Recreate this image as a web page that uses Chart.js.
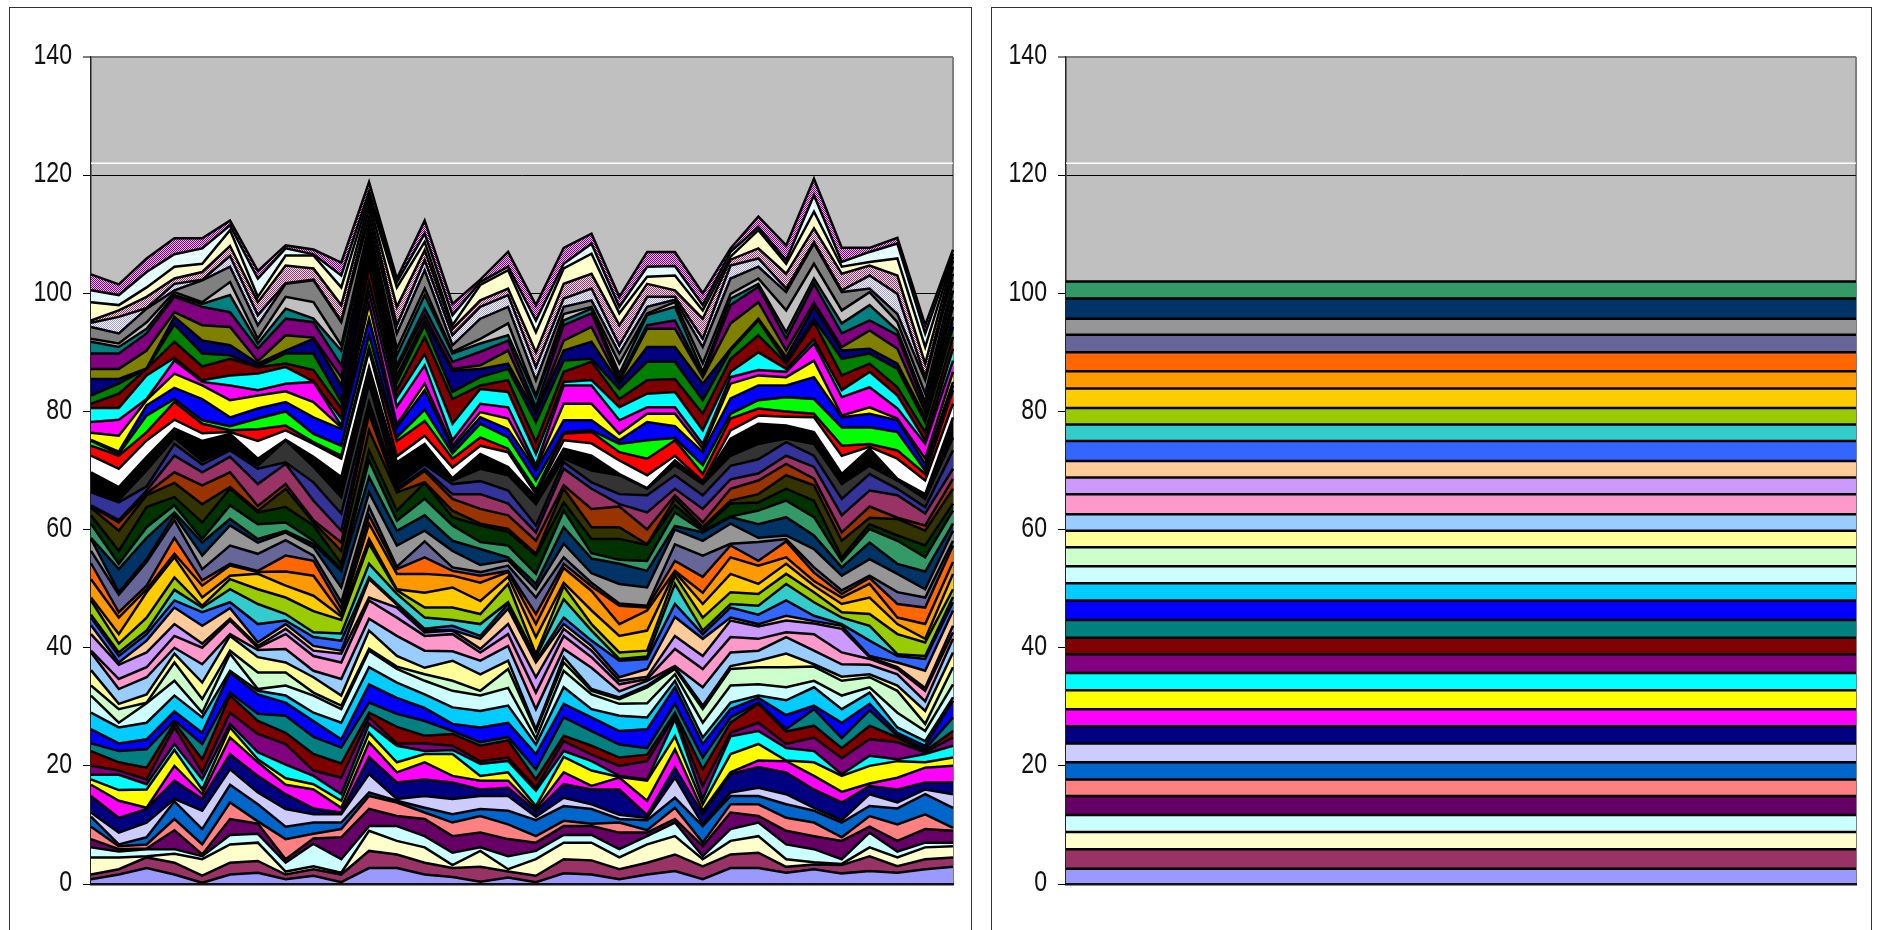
<!DOCTYPE html>
<html>
<head>
<meta charset="utf-8">
<title>Stacked areas</title>
<script src="https://cdn.jsdelivr.net/npm/chart.js@4"></script>
<style>
  html, body { margin: 0; padding: 0; background: #fff; width: 1877px; height: 930px; overflow: hidden; }
  .frame { position: absolute; top: 7px; height: 1000px; border: 1.5px solid #333; box-sizing: border-box; background: #fff; }
  #frameLeft { left: 9px; width: 963px; }
  #frameRight { left: 991px; width: 881px; }
  canvas { position: absolute; top: 0; left: 0; }
</style>
</head>
<body>
<div class="frame" id="frameLeft"><canvas id="leftChart" width="960" height="922"></canvas></div>
<div class="frame" id="frameRight"><canvas id="rightChart" width="878" height="922"></canvas></div>
<script>
// running totals per column, bottom band first
const x00 = [0.8,1.6,4.5,6.2,7.6,9.7,11.4,12.1,14.9,16.8, 17.7,18.5,20,22.5,23.8,26.2,29,31.9,33.6,36.2, 39.2,39.5,42.3,43.8,45.1,45.6,48,48.5,51.6,54.3, 56.4,58.4,58.6,61,62.4,63.7,63.9,64.1,66.3,66.5, 69.7,72.5,74.2,75,75.2,76.4,78.2,80.6,81.3,82.7, 85.5,87.2,89.8,91.8,92.3,94.3,95,95.4,98.5,100.5, 103.2];
const x01 = [1.6,2.5,4.5,5.5,5.9,6.4,6.7,8.7,11.2,14.1, 15.9,18.5,19.2,20.6,22.5,23.8,26.5,27.3,29.6,30.5, 33,34.7,37.1,37.5,38.6,39.2,40.7,42.3,45.1,46, 49,49.4,53.3,54.2,56.4,59.8,61.2,61.6,64.6,65, 67.2,70.3,72.5,72.8,73.2,75.9,78.6,80.6,83,84.7, 85.5,87.2,89.8,90.9,91.5,93.2,96,97.1,98,99.7, 101.5];
const x02 = [2.7,4.5,4.7,5.9,6,6.7,7.9,10.4,12.7,12.9, 16,16.9,17.7,19.7,22.8,24.5,27.3,30.6,30.7,32.1, 35,36.7,39.2,41.2,42.3,42.9,45.1,49.4,49.9,50.5, 54.5,55,58.6,60.4,63.8,65.8,66.1,66.6,67.3,70, 72.3,75.1,76.5,79.3,81,81.9,82.1,86.1,87.2,87.25, 87.3,90.3,93.2,94,95.1,97.4,97.5,99.4,101,103.6, 105.9];
const x03 = [1.6,3.6,5.1,5.9,9.1,11,14,14.4,17.5,20, 22.7,23.7,26.5,27.3,27.7,29.2,31.9,34.4,37.5,39, 40,42,44,46.8,48,49.8,51.9,55.3,55.9,58.6, 61.6,62.4,62.9,64.1,65.5,67.9,69.7,72.5,74.5,75.5, 77.1,78.6,81.6,82.1,84,86.4,88.6,89.1,91.8,94.7, 96,96.8,99.4,99.7,100.2,100.5,101.6,102.5,104.5,106.6, 109.3];
const x04 = [0.2,1.4,4.2,4.7,5,6.7,9.3,12.4,14.4,15.2, 16,17.7,18.9,21.1,23.7,25.6,28.2,29,31.3,34.1, 37.2,40,40.7,43.7,46,46.8,47.1,48.5,50.5,51.4, 53.3,55.6,57.8,58.4,61.2,64.3,67.5,69.7,71,71.6, 75,76.3,77.9,78.5,82.1,84.4,85,85.3,87.6,89.8, 92,94.6,97.7,98.2,98.5,102.2,102.3,103.6,105,107.6, 109.3];
const x05 = [1.6,3.6,6.7,8.3,11,13.8,16.8,19.4,22,24.8, 26.5,27.1,29,31.9,32.4,35.8,36.1,39,39.5,42, 42.3,44.6,44.9,46.7,47.7,49.9,51.6,52.2,53.9,54.2, 57.3,60.7,61.8,64.1,66.9,67.2,69.7,72.3,73.4,73.7, 76.2,76.5,76.8,77.5,79,81.9,84.4,86.1,88.9,89.5, 91.2,94.3,96.8,99.7,101.9,104.5,106.3,108,110.7,111.5, 112.3];
const x06 = [1.9,3.9,7,8.5,10.2,10.6,13.5,15.5,18.3,20.6, 21.1,22.3,25.4,27.6,28.8,32.1,32.7,33,35.8,38.4, 39.6,40,40.3,40.9,44,47.4,49.9,52.5,52.8,53, 55.9,57.8,58.4,60.9,62.9,63.2,64,67.7,70.3,70.8, 72,75,77,78.8,80.5,82.7,83.6,86.4,87.5,87.6, 88.1,88.5,90.6,91.5,92.3,94.6,96.3,98.5,99.4,102.5, 103.8];
const x07 = [0.8,1.6,2.1,3.6,4.2,7.6,9.7,12.7,15.2,16.8, 17.9,20.2,23.7,25.6,28.5,30.7,31.9,33.6,35.8,37.5, 39.8,42.3,43.2,44,44.6,45.7,48.5,50.5,52.9,55.6, 58.2,59.5,59.8,61.2,63.8,66.9,67.7,71.1,71.4,75.1, 75.2,76.8,77.6,80,81.6,83.4,84.7,87.5,88.1,89.8, 90.3,92.9,95.7,97.4,99.4,101.6,101.7,104.7,106.4,107.6, 108.1];
const x08 = [1.4,2.5,3,6.8,7.7,8.5,10.4,11.8,12.8,16, 16.9,18.3,19.2,22,24.9,27.6,29,31.9,32.4,35, 36.1,38.6,39.5,40.3,41.8,42.6,46.2,48.8,52.2,54.7, 55.6,57,57.6,58.1,60.7,61.2,61.6,64.9,68,70.6, 72.3,74.5,74.8,76.2,79,81.6,85,85.1,87,89.8, 92.3,92.5,95.1,95.7,98.5,102.2,102.3,104.2,106.4,106.6, 107.4];
const x09 = [0.3,1.6,1.9,4.2,7.9,9.3,10.4,11.8,12.1,12.9, 14.1,15.2,18,20.4,23.1,24.5,27.3,29.6,30.2,31.9, 34.7,37.5,39,39.5,41.2,42.4,44.7,45.3,45.7,46.6, 47.7,50.2,53,53.3,54.2,56.4,57.8,59.8,62.7,65.5, 68.9,72,72.5,74.2,77,77.3,77.6,78.8,80.5,81.6, 84.4,85.8,87.8,90.3,91.2,95.1,95.3,98,101,103, 105.2];
const x10 = [2.7,5.6,9,9.8,12.7,14.9,15.5,18.6,21.5,24, 25.6,27.1,28.2,29,30.7,33.8,36.7,39.5,39.8,42.9, 44.9,48,48.5,51.6,51.9,54.2,57.6,58.4,61,62.4, 63.8,66.3,68.9,71.7,73.4,76.8,79.6,80.5,81.6,84.7, 87.5,90.3,90.9,92.9,95.7,98.2,100.2,101.9,104.5,106.2, 107.6,108.4,109.8,110.7,111.5,112.9,114.4,115.5,116.3,117.2, 118.8];
const x11 = [2.7,5,7.3,9.8,11.5,13.8,14.1,14.4,17.2,18.9, 20.6,23.4,23.8,26.6,28.8,31.5,34.1,36.4,36.8,38.6, 42,45.1,46.8,47.3,47.5,49.1,49.7,49.9,52.5,53.3, 53.7,57.3,59.8,61.5,63.2,66.3,66.6,67,67.5,68, 71.4,72.4,75,75.6,77.3,77.8,80.8,82.4,83.6,85, 86.1,87.2,87.8,89.5,90.6,93.2,94.6,97.7,101,101.9, 102.5];
const x12 = [1.6,3.6,6.2,8.1,11,12.1,12.9,14.9,17.7,20.6, 22,22.5,23.8,25.1,27.6,29.8,32.1,34.4,35.5,36.6, 39.5,42,42.6,42.9,43.2,45.1,46.8,49.3,52.5,55.3, 58,59.8,62.4,65.2,67.9,68,69.9,70.3,71,71.4, 74.5,75.9,78.4,80.3,83.6,84.7,87.8,89.7,92.6,94.6, 95.4,96.3,97.4,99.7,100.8,103.9,105.6,107.3,108.7,110.1, 112.3];
const x13 = [1.2,2.7,3.2,5.3,8.1,10.4,11.8,14.4,17.2,18.3, 22,22.7,23.4,25.4,25.9,27.1,29.9,32.7,34.4,37.8, 39.4,42.3,42.9,43,43.7,44.7,46.8,50.2,52.2,53, 53.6,56.4,58.1,60.7,62.1,63.2,65.2,66,67.7,68.3, 68.7,70.5,72,72.9,73.7,74.2,75.1,77.9,82.1,83.3, 86.9,87.2,88.4,89.8,90.1,91.2,92.9,94,94.6,96.3, 98.2];
const x14 = [0.4,2.9,5.6,6.2,8.7,11.5,12.7,14.9,16,17.5, 18.3,20.3,20.8,23.4,24,26.5,29.3,31.9,32.7,35.5, 37.8,39.2,39.8,41.5,42,44,45.7,47.9,51,52.2, 52.8,54,56.7,57.9,60.7,61,63.5,66,68.2,70.3, 72.8,74.2,75.6,77.9,79,79.9,81.3,83.8,84.4,85.8, 87.2,87.8,90.1,91.5,92.3,95.7,97.7,98.8,101.4,101.9, 102.3];
const x15 = [1.1,2.1,2.5,4.7,7.6,10.1,12.4,14.9,16.3,17.5, 18.9,20.8,21.4,24.3,24.9,27.3,30.2,33.2,36.4,37.8, 40.3,42.3,44,46.6,47.4,47.7,50.8,52,52.8,53, 53.9,54.8,55.3,57.3,59.6,60.1,62.4,64.4,66.6,69.2, 70.6,73.1,73.7,75.6,77,78.8,80.7,83.3,85.3,87.2, 88.1,90.3,92,92.9,94.9,97.7,99.7,100.8,103.9,104.5, 107];
const x16 = [0.3,1.4,4.2,5.6,7,8.1,10.8,11.4,12.3,12.7, 13.2,15.8,16.3,17.7,19.4,22,23.6,24.6,25.9,26.2, 29.6,32.4,35,37.5,37.8,38.4,38.9,41.8,44,45.7, 48.5,49.9,50.8,52.5,55.6,55.9,58.1,59.5,60.7,64.3, 65.5,66,66.7,68.3,70,70.3,70.9,72.8,74.8,78.2, 79.6,79.9,80.7,82.4,82.7,85.3,87.5,90,93.4,95.4, 98];
const x17 = [1.8,4.2,7,8.3,9.8,10.7,13.2,14.6,16.9,18.9, 21.5,22.5,24.2,25.1,28.2,30.5,33.3,36.1,37.5,38.4, 39.8,42,43.2,44,45.1,48.2,50.4,51,53.5,54.2, 55.3,57.6,60.4,63.2,64.6,66.9,67.5,70.3,71.4,72, 73.7,75.1,76.2,76.5,78.5,81.3,84.4,85,86.7,88.6, 90.3,92,94.6,95.4,96.5,97.7,99.1,101.6,104.2,105, 107.7];
const x18 = [1.6,4,7,8.3,9.8,10.2,12.7,13.5,16,16.6, 19.2,20.8,21.9,23.4,25.9,28.2,29.6,32.1,32.7,33, 36.6,38.4,39.5,40.3,41.2,42.9,44,46.3,49.6,50.4, 51,52.6,55.1,56,58.4,60.4,63.5,66.9,68,70, 72.5,74.6,76.5,76.8,78.5,81.3,84.4,85.3,88.4,88.9, 91.8,94.3,96.6,97.4,97.7,98.8,100.8,103.3,106.7,108.4, 110.1];
const x19 = [0.8,2.5,4.5,5.9,8.7,10.4,11,11.7,16,18, 18.1,18.3,20,21.4,23.6,25.9,28.5,30.5,31.3,31.6, 32.6,33.8,34.4,35,37.8,38.1,39.2,42,44,47.1, 47.5,50.8,54.2,54.9,58.4,60.4,63.9,64.3,66,69.2, 69.4,71.7,73.1,74.5,75.1,76.2,78.5,80.7,82.1,83.8, 84.7,85,85.5,86.4,88.1,89.8,91.2,94.6,96.6,97.7, 99.4];
const x20 = [1.6,3.6,6.7,8.1,8.7,9.1,10.8,11.2,11.7,14.1, 17.5,17.7,20.8,21.9,23,26.2,28.2,30.6,33.3,33.6, 34.4,34.7,35.1,36.4,38.1,38.5,39.5,42.9,46.3,46.8, 47.1,50.2,53,54.7,57.4,57.5,60,62.9,65.8,66.9, 67,69.2,72,75.1,78.2,79.6,80.7,83,85.3,88.4, 90.9,94,94.6,96.3,96.6,97.7,99.4,101.6,102.8,104.5, 107];
const x21 = [2.2,5,8.1,10.4,11,12.9,14.6,18,19.7,22.8, 25,27.9,28.5,29,30.5,33.3,34.4,35.5,36.4,36.7, 36.9,39.8,42,45.2,47.4,50.8,52.2,52.8,53,54.7, 57.5,60,60.6,62.9,64.1,65.2,65.8,66.9,69.2,70.9, 71.7,72.5,75.1,75.5,77.5,79.6,80.7,83.3,85.5,88.4, 90.9,94,95.4,97.7,98.5,98.9,99.4,100.5,103,104.6, 107];
const x22 = [0.8,3,4.2,4.7,6.4,7,9.8,10.1,11.8,12.4, 13.5,14.4,16.6,19.4,21.4,23.7,24.8,27.3,29.6,30.2, 33.3,36.4,38.6,41.5,42.3,42.9,45.1,47.4,49.3,52, 55.6,58.1,59.5,59.8,60.1,60.4,61.2,63.5,65.8,67.7, 68,68.2,69.4,70.9,73.1,73.7,74.5,76.8,79.6,81.9, 84.7,85.8,86.1,86.7,88.1,90.9,92.3,95.7,97.1,98, 100];
const x23 = [2.7,5,7.3,9.3,12.1,13.5,14.9,15.5,18.6,18.9, 22,25,25.6,27.3,28.2,29.6,30.7,33.6,36.4,36.9, 39.2,41.8,44.6,45.1,46.8,47.4,49.4,52.5,55.3,57.3, 57.6,61,62.1,62.2,64.4,64.9,66.9,68.5,70.8,72.5, 75.4,76.8,78.8,79.6,82.2,84.7,85.8,86.7,88.9,90.3, 90.6,94.9,98,99.1,99.9,102.5,104.7,105.7,106.2,107, 107.6];
const x24 = [2.7,5.3,8.1,10.4,11.5,13.5,14.9,16.3,19.8,20.9, 23.7,25.9,27.3,30.5,30.7,31.5,31.9,33.8,36.7,37.8, 39.5,41.5,43.6,44,45.6,47.1,49.1,50.8,53.9,54.7, 57.9,58.6,60.9,63.2,64.6,66,68.3,69.5,71.9,74.5, 77.9,79.3,80.5,81.9,84.4,86.1,87,90,92.9,95.4, 95.7,98.5,101.1,101.6,102.5,104.5,105.9,107.6,110.7,111.2, 113];
const x25 = [1.9,2.9,4.2,6.7,9,11.2,13.5,15.2,18.9,20.8, 20.9,23,23.7,25.8,26.2,28.6,31.1,33.3,36.7,39, 41.8,42.6,44.6,45.4,48,50.8,52.5,54.2,55.3,58, 58.4,59,62.1,64.9,66.9,69.2,71.1,72.5,74.8,75.4, 77.6,79.1,80,82.4,84.4,85.8,86.7,87.2,88.1,88.4, 89.2,90.3,92.3,93.4,97.1,100.2,100.8,103.3,105,105.6, 108.1];
const x26 = [2.5,3.3,3.7,5.9,8.1,10.4,12.4,12.9,16,18.3, 20.6,22.5,24.8,26.8,29.6,30.2,33.3,34.4,36.8,37.2, 39.5,42.3,44.1,44.5,45.4,47.7,49.4,50.5,51.3,52.7, 53.6,56.7,59,62.1,64.9,67.5,68.6,70.6,72.5,74.5, 76.5,79,79.6,82.1,85.8,88.6,91.5,92.2,95.1,95.7, 97.7,98.4,101.6,102.5,105,108.4,108.7,111,113.8,116.6, 119.4];
const x27 = [1.8,3.2,3.4,4.2,7.3,7.9,10.4,10.8,13.8,15.6, 18.3,18.6,21.3,23,24.7,27.3,29.6,31.9,34.4,35.1, 37.2,39.2,43.2,43.7,44,45.1,46,47.4,48.5,49.1, 49.7,52.2,53.6,54.7,55.3,58.1,59.5,62.4,65.2,67.7, 69.4,72.5,74.2,77.3,79,79.3,82.4,83.6,86.1,88.9, 90.3,90.9,93.2,94.9,97.1,100.2,100.5,103.3,104.5,105.3, 107.7];
const x28 = [2.2,4.7,6.2,8.7,9.7,11.5,13.2,15.2,16.6,17, 20,21.7,24.5,26.8,29.4,30.5,32.4,33.3,35,35.5, 37.1,38.1,38.4,38.6,41.2,43.7,45.7,48.5,50.8,51.8, 52.2,55,57.8,60.1,60.9,62,63.9,66.6,69.4,70.8, 73.7,74,74.5,77.3,79.6,80.7,84.1,86.7,88.1,89.8, 90.6,93.7,95.4,98,100.2,100.8,103,104.7,105.3,107, 107.7];
const x29 = [1.9,3,4.5,5.5,7.3,10.1,12.8,13.8,16,18, 20.8,21.1,24,24.8,25.1,25.6,26.5,29,32.7,33.6, 35.5,36.4,36.7,37.5,38.6,38.9,42.3,44,45.1,47.4, 49.4,52.5,54.2,58.1,59,61.8,62,65.8,66.9,68.3, 68.6,72,73.4,76.5,78.5,78.8,80.5,82.7,84.1,87.2, 88.1,90.6,92.9,93.7,95.1,96.5,99.9,103,105.9,108.4, 109.4];
const x30 = [2.5,4.2,6.2,7,9.3,11.8,15.2,16,17.2,19.7, 20.6,22,22.3,22.5,22.8,23.4,24.2,25.9,27.1,29.3, 30.9,32.7,33.2,36.1,38.1,38.6,40.9,41.5,44,46.8, 48.5,49.9,52.9,55.3,57.3,59.8,60.7,62.7,63.8,65.2, 66,68.3,69.4,70,71.1,72,74.5,75.1,76.5,78.2, 79,79.9,80.7,81.6,83,85.3,85.8,88.1,90.9,93.2, 94.6];
const x31 = [2.9,4.5,6.4,7,9,9.5,12.9,15.2,17.2,20, 21.4,23.4,24.8,25.9,28.2,31,31.6,33.8,36.7,39.2, 41.5,42.6,43.7,46.3,47.7,48.6,49.9,52.5,54.5,57.3, 58.1,59.8,61,63.2,64.4,66.9,68.6,70.3,73.4,75.6, 79,81.3,83.6,84.4,85,86.7,88.6,90.6,92.6,94.3, 96,97.7,98.8,100.5,101.9,103.3,104.5,105.6,106.2,106.7, 107.4];

// right chart: the same first 34 bands as flat levels
const rightTops = [2.6,5.9,8.8,11.7,14.9,17.7,20.6,23.8,26.7,29.6, 32.8,35.7,38.9,41.7,44.7,48,50.9,53.8,57,59.8, 62.6,66,68.8,71.6,75,77.8,80.6,83.9,86.8,90, 93,95.7,99.1,102];

const whiteLevel = 122;
const yTicks = [0, 20, 40, 60, 80, 100, 120, 140];

const bandColors = [
  '#9999FF', '#993366', '#FFFFCC', '#CCFFFF', '#660066', '#FF8080', '#0066CC', '#CCCCFF', '#000080', '#FF00FF',
  '#FFFF00', '#00FFFF', '#800080', '#800000', '#008080', '#0000FF', '#00CCFF', '#CCFFFF', '#CCFFCC', '#FFFF99',
  '#99CCFF', '#FF99CC', '#CC99FF', '#FFCC99', '#3366FF', '#33CCCC', '#99CC00', '#FFCC00', '#FF9900', '#FF6600',
  '#666699', '#969696', '#003366', '#339966', '#003300', '#333300', '#993300', '#993366', '#333399', '#333333',
  '#000000', '#FFFFFF', '#FF0000', '#00FF00', '#0000FF', '#FFFF00', '#FF00FF', '#00FFFF', '#800000', '#008000',
  '#000080', '#808000', '#800080', '#008080', '#C0C0C0', '#808080',
  ['#9999FF', '#FFFFFF'], ['#993366', '#FFE4F0'], '#FFFFCC', ['#CCFFFF', '#FFFFFF'], ['#800080', '#DDBBDD'],
];

const columns = [x00, x01, x02, x03, x04, x05, x06, x07, x08, x09, x10, x11, x12, x13, x14, x15,
  x16, x17, x18, x19, x20, x21, x22, x23, x24, x25, x26, x27, x28, x29, x30, x31];
const categories = columns.map((col, i) => String(i + 1));

function bandFill(color) {
  if (!Array.isArray(color)) return color;
  const tile = document.createElement('canvas');
  tile.width = tile.height = 2;
  const g = tile.getContext('2d');
  g.fillStyle = color[1];
  g.fillRect(0, 0, 2, 2);
  g.fillStyle = color[0];
  g.fillRect(0, 0, 1, 1);
  g.fillRect(1, 1, 1, 1);
  return g.createPattern(tile, 'repeat');
}

function bandDataset(values, color, index) {
  return {
    data: values,
    borderColor: '#000',
    borderWidth: 2.5,
    borderJoinStyle: 'miter',
    backgroundColor: bandFill(color),
    fill: index === 0 ? 'origin' : '-1',
    pointRadius: 0,
    tension: 0,
  };
}

function whiteLine() {
  return {
    data: categories.map(() => whiteLevel),
    borderColor: '#fff',
    borderWidth: 1.5,
    fill: false,
    pointRadius: 0,
  };
}

const plotBackground = {
  id: 'plotBackground',
  beforeDraw(chart) {
    const { ctx, chartArea: a } = chart;
    ctx.save();
    ctx.fillStyle = '#C0C0C0';
    ctx.fillRect(a.left, a.top, a.right - a.left, a.bottom - a.top);
    ctx.restore();
  },
};

// the reference's tick digits are squeezed sideways, no installed face does that
const narrowTicks = {
  id: 'narrowTicks',
  afterDraw(chart) {
    const { ctx, scales: { y }, chartArea: a } = chart;
    y.ticks.forEach(tick => {
      ctx.save();
      ctx.translate(a.left - 19, y.getPixelForValue(tick.value) - 1);
      ctx.scale(0.77, 1);
      ctx.font = "30px 'Liberation Sans', Arial, sans-serif";
      ctx.fillStyle = '#111';
      ctx.textAlign = 'right';
      ctx.textBaseline = 'middle';
      ctx.fillText(String(tick.value), 0, 0);
      ctx.restore();
    });
  },
};

function drawChart(id, datasets, axisWidth, rightPad) {
  return new Chart(document.getElementById(id), {
    type: 'line',
    data: { labels: categories, datasets },
    plugins: [plotBackground, narrowTicks],
    options: {
      responsive: false,
      animation: false,
      layout: { padding: { top: 49, bottom: 46, left: 0, right: rightPad } },
      plugins: { legend: { display: false }, tooltip: { enabled: false } },
      scales: {
        x: {
          ticks: { display: false, autoSkip: false },
          grid: {
            drawTicks: false,
            color: ctx => (ctx.index === categories.length - 1 ? '#808080' : 'transparent'),
            lineWidth: 2,
          },
          border: { color: '#111', width: 2.5, z: 1 },
        },
        y: {
          min: 0,
          max: 140,
          afterBuildTicks: scale => { scale.ticks = yTicks.map(value => ({ value })); },
          afterFit: scale => { scale.width = axisWidth; },
          ticks: { display: false },
          grid: {
            tickLength: 8,
            color: ctx => (ctx.tick && ctx.tick.value === 140 ? '#808080' : '#000'),
            lineWidth: ctx => (ctx.tick && ctx.tick.value === 140 ? 2 : 1),
          },
          border: { color: '#222', width: 1.5 },
        },
      },
    },
  });
}

const leftSeries = bandColors.map((color, b) => bandDataset(columns.map(col => col[b]), color, b));
const rightSeries = rightTops.map((top, b) => bandDataset(categories.map(() => top), bandColors[b], b));

drawChart('leftChart', [...leftSeries, whiteLine()], 81, 17);
drawChart('rightChart', [...rightSeries, whiteLine()], 74, 14);
</script>
</body>
</html>
